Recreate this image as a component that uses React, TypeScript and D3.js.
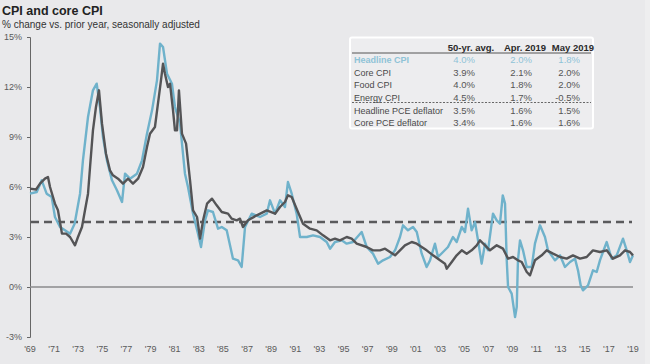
import React, { useEffect, useRef } from 'react';
import * as d3 from 'd3';

// headline CPI, y/y %, [year, value]
const headline: [number, number][] = [
  [1969.0, 5.6], [1969.56, 5.7], [1969.97, 6.4], [1970.38, 5.6], [1970.8, 5.4],
  [1971.07, 4.2], [1971.49, 3.6], [1971.9, 3.4], [1972.32, 3.2], [1972.7, 3.8],
  [1973.15, 5.6], [1973.39, 7.6], [1973.81, 10.2], [1974.22, 11.8], [1974.53, 12.2],
  [1974.8, 10.8], [1975.05, 9.0], [1975.38, 7.6], [1975.8, 6.4], [1976.21, 5.8],
  [1976.63, 5.1], [1976.88, 6.8], [1977.29, 6.5], [1977.87, 6.8], [1978.29, 7.6],
  [1978.7, 9.2], [1979.12, 10.6], [1979.53, 12.4], [1979.78, 14.6], [1980.03, 14.4],
  [1980.36, 12.8], [1980.77, 12.2], [1981.02, 10.8], [1981.44, 9.8], [1981.85, 6.8],
  [1982.1, 6.0], [1982.52, 4.4], [1982.93, 3.2], [1983.18, 2.4], [1983.51, 4.0],
  [1983.76, 4.6], [1984.17, 4.5], [1984.59, 3.5], [1984.9, 3.6], [1985.31, 3.4],
  [1985.83, 1.7], [1986.25, 1.6], [1986.55, 1.2], [1986.83, 3.6], [1987.38, 4.4],
  [1988.07, 4.2], [1988.63, 4.4], [1988.9, 5.2], [1989.32, 4.4], [1989.73, 5.2],
  [1990.14, 4.8], [1990.39, 6.3], [1990.7, 5.6], [1991.11, 4.4], [1991.39, 3.0],
  [1991.95, 3.0], [1992.47, 3.1], [1993.05, 3.0], [1993.6, 2.7], [1993.88, 2.3],
  [1994.29, 2.7], [1994.84, 2.8], [1995.26, 2.6], [1995.78, 2.7], [1996.5, 3.3],
  [1996.92, 2.4], [1997.44, 2.0], [1997.86, 1.4], [1998.27, 1.6], [1998.85, 1.8],
  [1999.27, 2.2], [1999.68, 3.0], [1999.93, 3.7], [2000.34, 3.4], [2000.76, 3.6],
  [2001.07, 3.3], [2001.48, 2.0], [2001.89, 1.2], [2002.17, 1.6], [2002.58, 2.6],
  [2002.83, 1.8], [2003.25, 2.1], [2003.66, 2.4], [2004.07, 3.0], [2004.38, 2.7],
  [2004.8, 3.6], [2005.07, 3.3], [2005.32, 4.7], [2005.62, 3.4], [2005.9, 3.9],
  [2006.15, 2.8], [2006.45, 1.4], [2006.73, 2.6], [2006.98, 2.2], [2007.39, 4.4],
  [2007.7, 4.0], [2007.97, 3.8], [2008.2, 5.5], [2008.39, 5.0], [2008.53, 1.6],
  [2008.64, 0.0], [2008.94, -0.4], [2009.22, -1.8], [2009.36, -1.2], [2009.46, 1.6],
  [2009.63, 2.8], [2009.88, 2.2], [2010.19, 1.2], [2010.6, 1.2], [2010.87, 2.6],
  [2011.29, 3.7], [2011.7, 3.0], [2011.95, 2.2], [2012.53, 1.6], [2012.95, 1.9],
  [2013.36, 1.2], [2013.78, 1.5], [2014.19, 1.7], [2014.44, 1.0], [2014.66, 0.1],
  [2014.85, -0.2], [2015.27, 0.1], [2015.68, 1.0], [2015.99, 0.9], [2016.26, 1.6],
  [2016.51, 2.1], [2016.82, 2.7], [2017.23, 1.7], [2017.65, 1.9], [2018.17, 2.9],
  [2018.48, 2.2], [2018.75, 1.5], [2019.0, 1.9]
];

// core CPI, y/y %
const core: [number, number][] = [
  [1969.0, 5.9], [1969.5, 5.85], [1969.83, 6.2], [1970.24, 6.5], [1970.49, 6.6],
  [1970.66, 6.0], [1971.07, 5.0], [1971.32, 4.6], [1971.65, 3.2], [1971.99, 3.2],
  [1972.32, 3.0], [1972.73, 2.5], [1972.98, 3.0], [1973.31, 3.6], [1973.56, 4.6],
  [1973.81, 5.6], [1973.98, 7.2], [1974.22, 9.4], [1974.47, 10.8], [1974.72, 11.8],
  [1974.97, 9.8], [1975.3, 8.0], [1975.63, 7.0], [1975.88, 6.7], [1976.3, 6.5],
  [1976.71, 6.2], [1977.13, 6.5], [1977.54, 6.2], [1977.96, 6.5], [1978.37, 7.2],
  [1978.7, 8.4], [1978.95, 9.2], [1979.36, 9.6], [1979.61, 11.0], [1979.86, 12.4],
  [1980.03, 13.4], [1980.19, 12.8], [1980.44, 12.0], [1980.61, 12.2], [1980.86, 10.6],
  [1981.02, 9.4], [1981.19, 9.4], [1981.35, 11.8], [1981.6, 9.2], [1981.94, 8.6],
  [1982.27, 6.4], [1982.52, 4.6], [1982.85, 4.2], [1983.1, 2.9], [1983.35, 4.0],
  [1983.68, 5.0], [1984.09, 5.3], [1984.48, 4.9], [1984.9, 4.5], [1985.42, 4.4],
  [1985.72, 4.1], [1986.14, 4.0], [1986.41, 4.1], [1986.66, 3.6], [1987.08, 4.0],
  [1987.8, 4.3], [1988.63, 4.6], [1989.32, 4.4], [1989.73, 4.8], [1990.14, 5.1],
  [1990.39, 5.5], [1990.7, 5.4], [1991.22, 4.5], [1991.64, 3.8], [1992.22, 3.5],
  [1992.77, 3.4], [1993.3, 3.1], [1993.88, 2.8], [1994.29, 2.9], [1994.7, 2.8],
  [1995.26, 3.0], [1995.67, 2.9], [1996.09, 2.6], [1996.92, 2.4], [1997.44, 2.2],
  [1998.02, 2.2], [1998.44, 2.3], [1998.85, 2.1], [1999.27, 1.9], [1999.68, 2.2],
  [2000.09, 2.5], [2000.65, 2.7], [2001.07, 2.6], [2001.48, 2.4], [2001.89, 2.2],
  [2002.42, 1.9], [2003.0, 1.6], [2003.41, 1.4], [2003.55, 1.1], [2003.97, 1.5],
  [2004.38, 1.9], [2004.8, 2.2], [2005.21, 2.0], [2005.62, 2.2], [2006.04, 2.5],
  [2006.31, 2.8], [2006.73, 2.5], [2007.14, 2.2], [2007.7, 2.5], [2008.22, 2.3],
  [2008.64, 1.7], [2009.05, 1.8], [2009.46, 1.6], [2009.77, 1.5], [2010.19, 0.9],
  [2010.46, 0.7], [2010.87, 1.6], [2011.43, 1.9], [2011.84, 2.2], [2012.37, 2.0],
  [2012.95, 1.8], [2013.5, 1.7], [2014.02, 1.9], [2014.61, 1.7], [2015.16, 1.8],
  [2015.68, 2.2], [2016.26, 2.1], [2016.82, 2.2], [2017.34, 1.7], [2017.92, 1.9],
  [2018.34, 2.2], [2018.75, 2.1], [2019.0, 1.9]
];

const avg50yr = 3.9;

const xTickYears = [
  1969, 1971, 1973, 1975, 1977, 1979, 1981, 1983, 1985, 1987, 1989, 1991, 1993,
  1995, 1997, 1999, 2001, 2003, 2005, 2007, 2009, 2011, 2013, 2015, 2017, 2019
];
const yTicks = [-3, 0, 3, 6, 9, 12, 15];

const tableHeader = ['50-yr. avg.', 'Apr. 2019', 'May 2019'];
const tableLabels = ['Headline CPI', 'Core CPI', 'Food CPI', 'Energy CPI', 'Headline PCE deflator', 'Core PCE deflator'];
const tableAvg = ['4.0%', '3.9%', '4.0%', '4.5%', '3.5%', '3.4%'];
const tableApr = ['2.0%', '2.1%', '1.8%', '1.7%', '1.6%', '1.6%'];
const tableMay = ['1.8%', '2.0%', '2.0%', '-0.5%', '1.5%', '1.6%'];

const BLUE = '#6fb2cb';
const DARK = '#545456';
const FONT = '"Liberation Sans", Arial, sans-serif';

export default function App() {
  const ref = useRef<SVGSVGElement>(null);

  useEffect(() => {
    const width = 650;
    const height = 364;
    const svg = d3.select(ref.current);
    svg.selectAll('*').remove();
    svg.attr('width', width).attr('height', height).style('font-family', FONT);

    svg.append('rect').attr('width', width).attr('height', height).attr('fill', '#e9e9eb');
    svg.append('rect').attr('x', 645).attr('width', 5).attr('height', height).attr('fill', '#eeeeef');

    // title
    svg.append('text').attr('x', 2).attr('y', 15).attr('font-size', 12.5).attr('font-weight', 'bold')
      .attr('fill', '#222').text('CPI and core CPI');
    svg.append('text').attr('x', 2).attr('y', 27.5).attr('font-size', 10)
      .attr('fill', '#333').text('% change vs. prior year, seasonally adjusted');

    const x = d3.scaleLinear().domain([1969, 2019]).range([30, 633]);
    const y = d3.scaleLinear().domain([-3, 15]).range([337, 37]);

    // y axis
    const yAxis = svg.append('g').attr('transform', 'translate(30,0)')
      .call(d3.axisLeft(y).tickValues(yTicks).tickSize(3).tickPadding(5)
        .tickFormat((d) => d + '%'));
    yAxis.select('.domain').attr('stroke', '#666').attr('stroke-width', 1);
    yAxis.selectAll('.tick line').attr('stroke', '#666');
    yAxis.selectAll('.tick text').attr('fill', '#5a5a5a').attr('font-size', 9).attr('font-family', FONT);

    // x labels
    svg.append('g').selectAll('text').data(xTickYears).enter().append('text')
      .attr('x', (d) => x(d)).attr('y', 352).attr('text-anchor', 'middle')
      .attr('font-size', 9).attr('fill', '#5a5a5a')
      .text((d) => "'" + String(d).slice(2));

    // zero line
    svg.append('line').attr('x1', 30).attr('x2', 633).attr('y1', y(0)).attr('y2', y(0))
      .attr('stroke', '#8a8a8c').attr('stroke-width', 1.5);

    // 50 yr avg dashed
    svg.append('line').attr('x1', 31).attr('x2', 632).attr('y1', y(avg50yr)).attr('y2', y(avg50yr))
      .attr('stroke', '#5a5a5c').attr('stroke-width', 2.5).attr('stroke-dasharray', '8,5');

    const line = d3.line<[number, number]>().x((d) => x(d[0])).y((d) => y(d[1]));

    svg.append('path').datum(headline).attr('d', line).attr('fill', 'none')
      .attr('stroke', BLUE).attr('stroke-width', 2.4).attr('stroke-linejoin', 'round');
    svg.append('path').datum(core).attr('d', line).attr('fill', 'none')
      .attr('stroke', DARK).attr('stroke-width', 2.4).attr('stroke-linejoin', 'round');

    // table
    const t = svg.append('g');
    t.append('rect').attr('x', 350).attr('y', 37.5).attr('width', 243).attr('height', 91).attr('rx', 2)
      .attr('fill', '#ededef').attr('stroke', '#ffffff').attr('stroke-width', 2);
    const colRight = [475, 532, 580];
    const headCenter = [471, 525, 573];
    tableHeader.forEach((h, i) => {
      t.append('text').attr('x', headCenter[i]).attr('y', 50.5).attr('text-anchor', 'middle')
        .attr('font-size', 9.5).attr('font-weight', 'bold').attr('fill', '#2a2a2a').text(h);
    });
    t.append('line').attr('x1', 352).attr('x2', 591).attr('y1', 53).attr('y2', 53)
      .attr('stroke', '#555').attr('stroke-width', 1);
    const rowY = [63, 75.5, 88, 100.5, 113.5, 126];
    tableLabels.forEach((lab, i) => {
      const col = i === 0 ? '#8fc3d7' : '#4a4a4a';
      const weight = i === 0 ? 'bold' : 'normal';
      t.append('text').attr('x', 354).attr('y', rowY[i]).attr('font-size', 9)
        .attr('font-weight', weight).attr('fill', col).text(lab);
      [tableAvg[i], tableApr[i], tableMay[i]].forEach((v, j) => {
        t.append('text').attr('x', colRight[j]).attr('y', rowY[i]).attr('text-anchor', 'end')
          .attr('font-size', 9.5).attr('fill', i === 0 ? '#8fc3d7' : '#555').text(v);
      });
    });
    t.append('line').attr('x1', 352).attr('x2', 591).attr('y1', 102.5).attr('y2', 102.5)
      .attr('stroke', '#444').attr('stroke-width', 0.8).attr('stroke-dasharray', '2,1.5');
  }, []);

  return (
    <div style={{ position: 'fixed', left: 0, top: 0 }}>
      <svg ref={ref}></svg>
    </div>
  );
}
